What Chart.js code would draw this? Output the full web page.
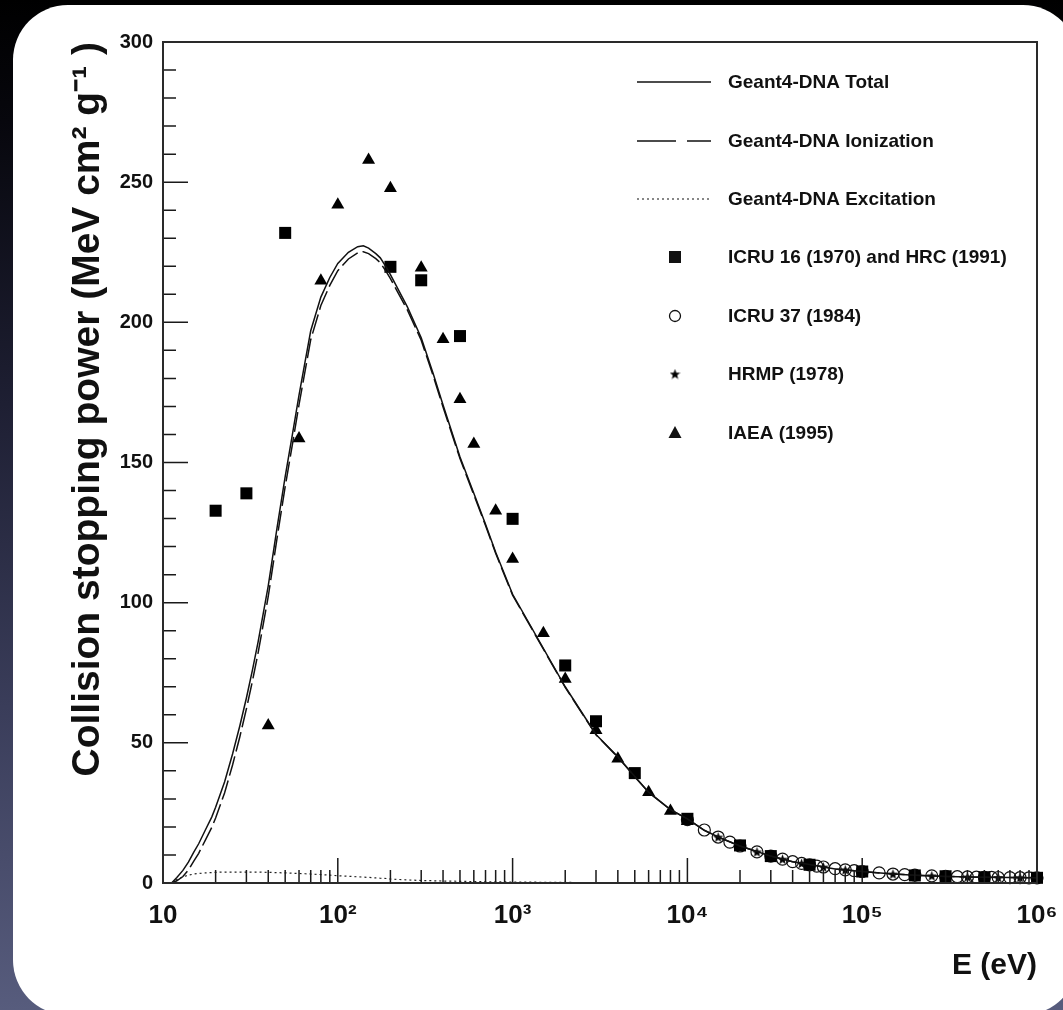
<!DOCTYPE html>
<html>
<head>
<meta charset="utf-8">
<script src="https://cdn.jsdelivr.net/npm/chart.js@4.4.1/dist/chart.umd.min.js"></script>
<style>
  html, body { margin: 0; padding: 0; width: 1063px; height: 1010px; overflow: hidden; }
  body { background: linear-gradient(to bottom, #000000 0%, #07070d 12%, #1e1f33 40%, #3a3d5a 70%, #575c7d 100%); position: relative; }
  #panel { position: absolute; left: 13px; top: 5px; width: 1065px; height: 1010px; border-radius: 55px; background: #ffffff; }
  #c { position: absolute; left: 0; top: 0; width: 1063px; height: 1010px; }
</style>
</head>
<body>
<div id="panel"></div>
<canvas id="c" width="1063" height="1010"></canvas>
<script>
// ---------------- data ----------------
const curveEnergy = [11.2, 12, 13, 14, 15, 16, 17.5, 19, 20, 22.5, 25, 27.5, 30, 32.5, 35, 40, 45, 50, 55, 60, 65, 70, 80, 90, 100, 115, 130, 140, 150, 165, 175, 190, 200, 250, 300, 350, 400, 500, 600, 700, 800, 1000, 2000, 3000, 4000, 5000, 6000, 8000, 10000, 12500, 15000, 20000, 30000, 40000, 50000, 70000, 100000, 150000, 200000, 300000, 500000, 1000000];
const totalSP = [0, 2, 4.5, 7.5, 11, 14, 19, 23.5, 27, 36, 46, 56, 66, 76, 86, 106, 127, 145, 160, 174, 186, 197, 209, 216, 221, 225, 227, 227.3, 226.5, 224.5, 223, 219.5, 217, 205.5, 194.5, 182, 170.5, 152, 139, 128, 118, 103, 70, 53, 45, 38, 32.4, 26.2, 22.9, 18.8, 16.4, 13.2, 9.6, 7.6, 6.6, 5.0, 4.1, 3.2, 2.8, 2.36, 2.03, 1.85];
const ionizationSP = [0, 0.8, 2.3, 4.7, 7.8, 10.6, 15.4, 19.8, 23.2, 32.1, 42.1, 52.1, 62.1, 72.1, 82.1, 102.2, 123.3, 141.4, 156.5, 170.6, 182.7, 193.8, 206, 213.2, 218.4, 222.6, 224.8, 225.2, 224.5, 222.7, 221.3, 217.9, 215.6, 204.4, 193.6, 181.2, 169.8, 151.4, 138.5, 127.55, 117.6, 102.65, 69.8, 52.85, 44.88, 37.9, 32.32, 26.14, 22.85, 18.76, 16.36, 13.17, 9.58, 7.58, 6.59, 4.99, 4.09, 3.2, 2.8, 2.36, 2.03, 1.85];
const excitationSP = [0, 1.2, 2.2, 2.8, 3.2, 3.4, 3.6, 3.7, 3.8, 3.9, 3.9, 3.9, 3.9, 3.9, 3.9, 3.8, 3.7, 3.6, 3.5, 3.4, 3.3, 3.2, 3.0, 2.8, 2.6, 2.4, 2.2, 2.1, 2.0, 1.8, 1.7, 1.6, 1.4, 1.1, 0.9, 0.8, 0.7, 0.6, 0.5, 0.45, 0.4, 0.35, 0.2, 0.15, 0.12, 0.1, 0.08, 0.06, 0.05, 0.04, 0.04, 0.03, 0.02, 0.02, 0.01, 0.01, 0.01, 0, 0, 0, 0, 0];

const icru16Energy = [20, 30, 50, 200, 300, 500, 1000, 2000, 3000, 5000, 10000, 20000, 30000, 50000, 100000, 200000, 300000, 500000, 1000000];
const icru16SP = [132.8, 139, 231.9, 219.8, 215, 195.1, 129.9, 77.6, 57.7, 39.2, 22.9, 13.4, 9.6, 6.5, 4.1, 2.7, 2.4, 2.05, 1.85];

const icru37Energy = [10000, 12500, 15000, 17500, 20000, 25000, 30000, 35000, 40000, 45000, 50000, 55000, 60000, 70000, 80000, 90000, 100000, 125000, 150000, 175000, 200000, 250000, 300000, 350000, 400000, 450000, 500000, 550000, 600000, 700000, 800000, 900000, 1000000];
const icru37SP = [22.6, 18.9, 16.4, 14.6, 13.2, 11.1, 9.6, 8.5, 7.6, 7.0, 6.5, 6.0, 5.7, 5.1, 4.7, 4.4, 4.1, 3.6, 3.2, 3.0, 2.8, 2.55, 2.36, 2.24, 2.15, 2.09, 2.03, 1.99, 1.96, 1.92, 1.89, 1.86, 1.85];

const hrmpEnergy = [15000, 25000, 35000, 45000, 60000, 80000, 150000, 250000, 400000, 600000, 800000, 1000000];
const hrmpSP = [16.4, 11.1, 8.5, 7.0, 5.7, 4.7, 3.2, 2.55, 2.15, 1.96, 1.89, 1.85];

const iaeaEnergy = [40, 60, 80, 100, 150, 200, 300, 400, 500, 600, 800, 1000, 1500, 2000, 3000, 4000, 6000, 8000, 10000];
const iaeaSP = [56.2, 158.6, 214.8, 241.9, 257.9, 247.8, 219.5, 194, 172.6, 156.6, 132.8, 115.6, 89.1, 72.8, 54.5, 44.3, 32.4, 25.7, 22];

const seriesNames = ['Geant4-DNA Total', 'Geant4-DNA Ionization', 'Geant4-DNA Excitation', 'ICRU 16 (1970) and HRC (1991)', 'ICRU 37 (1984)', 'HRMP (1978)', 'IAEA (1995)'];

const xMajorTicks = [10, 100, 1000, 10000, 100000, 1000000];
const xTickLabels = ['10', '10²', '10³', '10⁴', '10⁵', '10⁶'];
const xMinorTicks = [20, 30, 40, 50, 60, 70, 80, 90, 200, 300, 400, 500, 600, 700, 800, 900, 2000, 3000, 4000, 5000, 6000, 7000, 8000, 9000, 20000, 30000, 40000, 50000, 60000, 70000, 80000, 90000, 200000, 300000, 400000, 500000, 600000, 700000, 800000, 900000];
const yMajorTicks = [0, 50, 100, 150, 200, 250, 300];
const yMinorTicks = [10, 20, 30, 40, 60, 70, 80, 90, 110, 120, 130, 140, 160, 170, 180, 190, 210, 220, 230, 240, 260, 270, 280, 290];

const yTitle = 'Collision stopping power (MeV cm² g⁻¹ )';
const xTitle = 'E (eV)';

// ---------------- helpers ----------------
const pts = (xs, ys) => xs.map((x, i) => ({x: x, y: ys[i]}));

function makeStar(size) {
  const c = document.createElement('canvas');
  c.width = size; c.height = size;
  const g = c.getContext('2d');
  const cx = size / 2, cy = size / 2 + 0.5, R = size / 2, r = R * 0.42;
  g.beginPath();
  for (let i = 0; i < 10; i++) {
    const a = -Math.PI / 2 + i * Math.PI / 5;
    const rad = (i % 2) ? r : R;
    g.lineTo(cx + rad * Math.cos(a), cy + rad * Math.sin(a));
  }
  g.closePath();
  g.fillStyle = '#000';
  g.fill();
  return c;
}
const starImg = makeStar(11);

const SANS = "'Liberation Sans', Arial, Helvetica, sans-serif";

// ---------------- plugins ----------------
const frameAndTicks = {
  id: 'frameAndTicks',
  afterDatasetsDraw(chart) {
    const {ctx, chartArea: a, scales} = chart;
    const x = scales.x, y = scales.y;
    ctx.save();
    ctx.strokeStyle = '#1a1a1a';
    ctx.lineWidth = 1.5;
    ctx.beginPath();
    y.ticks.forEach(t => {
      const py = y.getPixelForValue(t.value);
      const len = yMajorTicks.includes(t.value) ? 25 : 13;
      ctx.moveTo(a.left, py); ctx.lineTo(a.left + len, py);
    });
    x.ticks.forEach(t => {
      const px = x.getPixelForValue(t.value);
      const len = xMajorTicks.includes(t.value) ? 25 : 13;
      ctx.moveTo(px, a.bottom); ctx.lineTo(px, a.bottom - len);
    });
    ctx.stroke();
    ctx.strokeStyle = '#2a2a2a';
    ctx.lineWidth = 2;
    ctx.strokeRect(a.left, a.top, a.right - a.left, a.bottom - a.top);
    ctx.restore();
  }
};

const boxLegend = {
  id: 'boxLegend',
  afterDraw(chart) {
    const ctx = chart.ctx;
    const x0 = 637, x1 = 711, xm = 675, xt = 728;
    const rowY = [82, 141, 199, 257, 316, 374, 433];
    ctx.save();
    ctx.fillStyle = '#111';
    ctx.strokeStyle = '#111';
    [[], [39, 11], [2, 3]].forEach((dash, i) => {
      ctx.beginPath();
      ctx.setLineDash(dash);
      ctx.lineWidth = i === 2 ? 1.2 : 1.6;
      ctx.moveTo(x0, rowY[i]); ctx.lineTo(x1, rowY[i]);
      ctx.stroke();
    });
    ctx.setLineDash([]);
    ctx.fillRect(xm - 6, rowY[3] - 6, 12, 12);
    ctx.beginPath(); ctx.lineWidth = 1.3;
    ctx.arc(xm, rowY[4], 5.5, 0, Math.PI * 2); ctx.stroke();
    ctx.drawImage(starImg, xm - starImg.width / 2, rowY[5] - starImg.height / 2);
    ctx.beginPath();
    ctx.moveTo(xm, rowY[6] - 7); ctx.lineTo(xm + 6.5, rowY[6] + 5); ctx.lineTo(xm - 6.5, rowY[6] + 5);
    ctx.closePath(); ctx.fill();
    ctx.font = 'bold 19px ' + SANS;
    ctx.textAlign = 'left';
    ctx.textBaseline = 'middle';
    seriesNames.forEach((n, i) => ctx.fillText(n, xt, rowY[i] + 1));
    ctx.restore();
  }
};

// ---------------- chart ----------------
const ctx = document.getElementById('c').getContext('2d');
new Chart(ctx, {
  type: 'scatter',
  data: {
    datasets: [
      { label: seriesNames[0], data: pts(curveEnergy, totalSP), showLine: true, borderColor: '#111', borderWidth: 1.5, pointRadius: 0, tension: 0, clip: false },
      { label: seriesNames[1], data: pts(curveEnergy, ionizationSP), showLine: true, borderColor: '#111', borderWidth: 1.5, borderDash: [20, 5], pointRadius: 0, tension: 0, clip: false },
      { label: seriesNames[2], data: pts(curveEnergy, excitationSP), showLine: true, borderColor: '#222', borderWidth: 1.2, borderDash: [2, 3], pointRadius: 0, tension: 0, clip: false },
      { label: seriesNames[3], data: pts(icru16Energy, icru16SP), pointStyle: 'rect', pointRadius: 8.5, backgroundColor: '#000', borderColor: '#000', borderWidth: 0, clip: false },
      { label: seriesNames[4], data: pts(icru37Energy, icru37SP), pointStyle: 'circle', pointRadius: 6, backgroundColor: 'rgba(0,0,0,0)', borderColor: '#111', borderWidth: 1.2, clip: false },
      { label: seriesNames[5], data: pts(hrmpEnergy, hrmpSP), pointStyle: starImg, pointRadius: 5, backgroundColor: '#000', borderColor: '#000', clip: false },
      { label: seriesNames[6], data: pts(iaeaEnergy, iaeaSP), pointStyle: 'triangle', pointRadius: 7.5, backgroundColor: '#000', borderColor: '#000', borderWidth: 0, clip: false }
    ]
  },
  options: {
    responsive: false,
    animation: false,
    devicePixelRatio: 1,
    events: [],
    layout: { padding: { left: 0, top: 42, right: 26, bottom: 0 } },
    plugins: { legend: { display: false }, tooltip: { enabled: false } },
    scales: {
      x: {
        type: 'logarithmic',
        position: 'bottom',
        min: 10, max: 1000000,
        afterBuildTicks: (s) => { s.ticks = xMajorTicks.concat(xMinorTicks).sort((a, b) => a - b).map(v => ({value: v, major: xMajorTicks.includes(v)})); },
        afterFit: (s) => { s.height = 127; s.paddingLeft = 0; s.paddingRight = 0; },
        grid: { display: false, drawTicks: false },
        border: { display: false },
        ticks: {
          autoSkip: false, maxRotation: 0, minRotation: 0, padding: 17,
          color: '#111',
          font: { family: SANS, size: 26, weight: 'bold' },
          callback: (v) => { const i = xMajorTicks.indexOf(v); return i >= 0 ? xTickLabels[i] : ''; }
        },
        title: { display: true, text: xTitle, align: 'end', color: '#111', font: { family: SANS, size: 30, weight: 'bold' }, padding: { top: 0, bottom: 26 } }
      },
      y: {
        type: 'linear',
        position: 'left',
        min: 0, max: 300,
        afterBuildTicks: (s) => { s.ticks = yMajorTicks.concat(yMinorTicks).sort((a, b) => a - b).map(v => ({value: v})); },
        afterFit: (s) => { s.width = 163; s.paddingTop = 0; s.paddingBottom = 0; },
        grid: { display: false, drawTicks: false },
        border: { display: false },
        ticks: {
          autoSkip: false, padding: 10,
          color: '#111',
          font: { family: SANS, size: 20, weight: 'bold' },
          callback: (v) => yMajorTicks.includes(v) ? String(v) : ''
        },
        title: { display: true, text: yTitle, align: 'end', color: '#111', font: { family: SANS, size: 39, weight: 'bold' }, padding: { top: 65, bottom: 0 } }
      }
    }
  },
  plugins: [frameAndTicks, boxLegend]
});
</script>
</body>
</html>
